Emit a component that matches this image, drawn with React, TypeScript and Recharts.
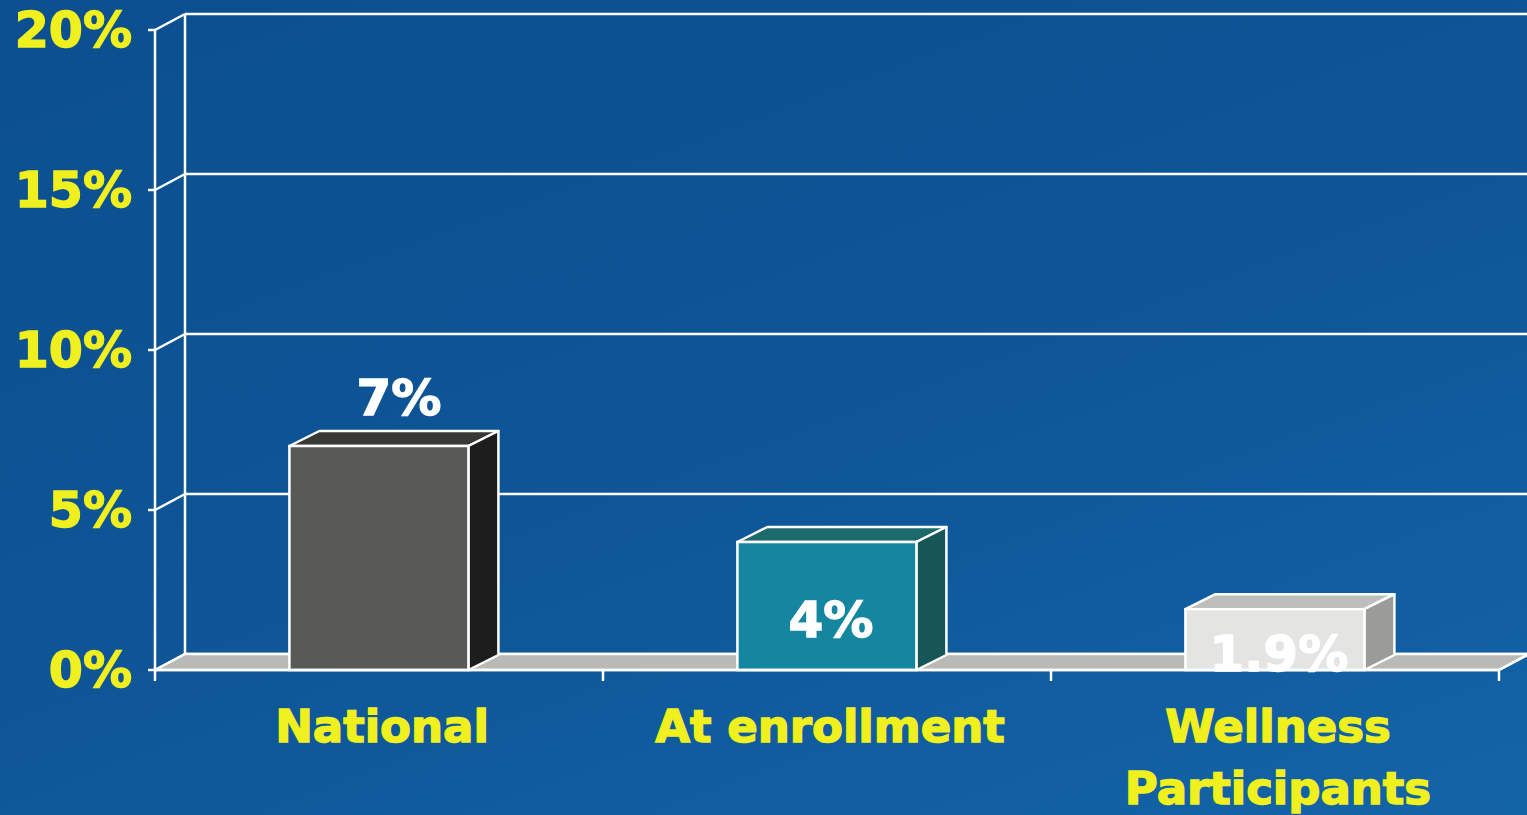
import React from 'react';
import {
  BarChart,
  Bar,
  XAxis,
  YAxis,
  CartesianGrid,
  ReferenceArea,
  LabelList,
} from 'recharts';

const categories = ['National', 'At enrollment', 'Wellness Participants'];
const values = [7, 4, 1.9];
const valueLabels = ['7%', '4%', '1.9%'];
const yTicks = [0, 5, 10, 15, 20];

const frontColors = ['#595957', '#1486a0', '#e4e4e2'];
const topColors = ['#383836', '#1d6a6c', '#bdbdbb'];
const sideColors = ['#1d1d1d', '#175656', '#9b9b99'];

const DX = 30;
const DY = 16;
const LW = 2.5;
const WHITE = '#ffffff';
const YELLOW = '#f0f01e';
const FONT = '"DejaVu Sans", Verdana, sans-serif';

const data = categories.map((name, i) => ({ name, value: values[i], label: valueLabels[i] }));

const Box3D = (props: any) => {
  const { x, y, width, height, index } = props;
  const i = typeof index === 'number' ? index : categories.indexOf(props.payload?.name);
  return (
    <g>
      <polygon
        points={`${x},${y} ${x + DX},${y - DY + 1} ${x + width + DX},${y - DY + 1} ${x + width},${y}`}
        fill={topColors[i]}
        stroke={WHITE}
        strokeWidth={LW}
        strokeLinejoin="round"
      />
      <polygon
        points={`${x + width},${y} ${x + width + DX},${y - DY + 1} ${x + width + DX},${y + height - DY + 1} ${x + width},${y + height}`}
        fill={sideColors[i]}
        stroke={WHITE}
        strokeWidth={LW}
        strokeLinejoin="round"
      />
      <rect x={x} y={y} width={width} height={height} fill={frontColors[i]} stroke={WHITE} strokeWidth={LW} />
    </g>
  );
};

const BackWall = (props: any) => {
  const { x, y, width, height } = props;
  const bottom = y + height;
  return (
    <g>
      <line x1={x + DX} y1={y - DY} x2={x + DX} y2={bottom - DY} stroke={WHITE} strokeWidth={LW} />
      <polygon
        points={`${x},${bottom} ${x + DX},${bottom - DY} ${x + width + DX},${bottom - DY} ${x + width},${bottom}`}
        fill="#b9b9b6"
        stroke={WHITE}
        strokeWidth={LW}
      />
    </g>
  );
};

const gridLine = (props: any) => {
  const { x1, y1, x2, key } = props;
  return (
    <g key={key}>
      <line x1={x1} y1={y1} x2={x1 + DX} y2={y1 - DY} stroke={WHITE} strokeWidth={LW} />
      <line x1={x1 + DX} y1={y1 - DY} x2={x2 + DX} y2={y1 - DY} stroke={WHITE} strokeWidth={LW} />
    </g>
  );
};

const XTick = (props: any) => {
  const { x, y, payload, index, visibleTicksCount } = props;
  const half = payload?.offset ?? 224;
  const last = index === (visibleTicksCount ?? categories.length) - 1;
  const text = String(payload.value);
  // long names go on two lines, like the original slide
  const lines = text.length > 14 ? text.split(' ') : [text];
  return (
    <g>
      <line x1={x - half} y1={y} x2={x - half} y2={y + 11} stroke={WHITE} strokeWidth={LW} />
      {last && (
        <g>
          <line x1={x + half} y1={y} x2={x + half} y2={y + 11} stroke={WHITE} strokeWidth={LW} />
          <line x1={x + half} y1={y} x2={x + half + DX} y2={y - DY} stroke={WHITE} strokeWidth={LW} />
        </g>
      )}
      <text
        x={x + 3}
        y={y + 72}
        textAnchor="middle"
        fill={YELLOW}
        stroke={YELLOW}
        strokeWidth={1.4}
        fontSize={45}
        fontWeight="bold"
        fontFamily={FONT}
      >
        {lines.map((ln, k) => (
          <tspan key={k} x={x + 3} dy={k === 0 ? 0 : 62}>
            {ln}
          </tspan>
        ))}
      </text>
    </g>
  );
};

const ValueLabel = (props: any) => {
  const { x, y, width, height, value } = props;
  const inside = Number(String(value).replace('%', '')) < 5;
  const cx = x + width / 2 + (inside ? 4 : 20);
  const base = inside ? y + height / 2 + 31 : y - 31;
  return (
    <text
      x={cx}
      y={base}
      textAnchor="middle"
      fill={WHITE}
      stroke={WHITE}
      strokeWidth={1.4}
      fontSize={50}
      fontWeight="bold"
      fontFamily={FONT}
    >
      {value}
    </text>
  );
};

export default function App() {
  return (
    <div
      style={{
        position: 'absolute',
        left: 0,
        top: 0,
        width: 1527,
        height: 815,
        background: 'linear-gradient(160deg, #0b4f8f 0%, #0e5698 55%, #1364a7 100%)',
        overflow: 'hidden',
      }}
    >
      <BarChart
        width={1527}
        height={815}
        data={data}
        margin={{ top: 30, right: 28, bottom: 0, left: 0 }}
        barCategoryGap="30%"
      >
        <CartesianGrid vertical={false} horizontal={gridLine} stroke={WHITE} />
        <ReferenceArea y1={0} y2={20} shape={<BackWall />} zIndex={-60} ifOverflow="visible" />
        <XAxis
          dataKey="name"
          height={145}
          axisLine={{ stroke: WHITE, strokeWidth: LW }}
          tickLine={false}
          tickSize={0}
          tickMargin={0}
          interval={0}
          tick={<XTick />}
        />
        <YAxis
          width={155}
          domain={[0, 20]}
          ticks={yTicks}
          interval={0}
          tickFormatter={(v: number) => `${v}%`}
          axisLine={{ stroke: WHITE, strokeWidth: LW }}
          tickLine={{ stroke: WHITE, strokeWidth: LW }}
          tickSize={7}
          tickMargin={16}
          tick={{ fill: YELLOW, stroke: YELLOW, strokeWidth: 1.4, fontSize: 49, fontWeight: 'bold', fontFamily: FONT }}
        />
        <Bar dataKey="value" shape={<Box3D />} isAnimationActive={false}>
          <LabelList dataKey="label" content={<ValueLabel />} />
        </Bar>
      </BarChart>
    </div>
  );
}
